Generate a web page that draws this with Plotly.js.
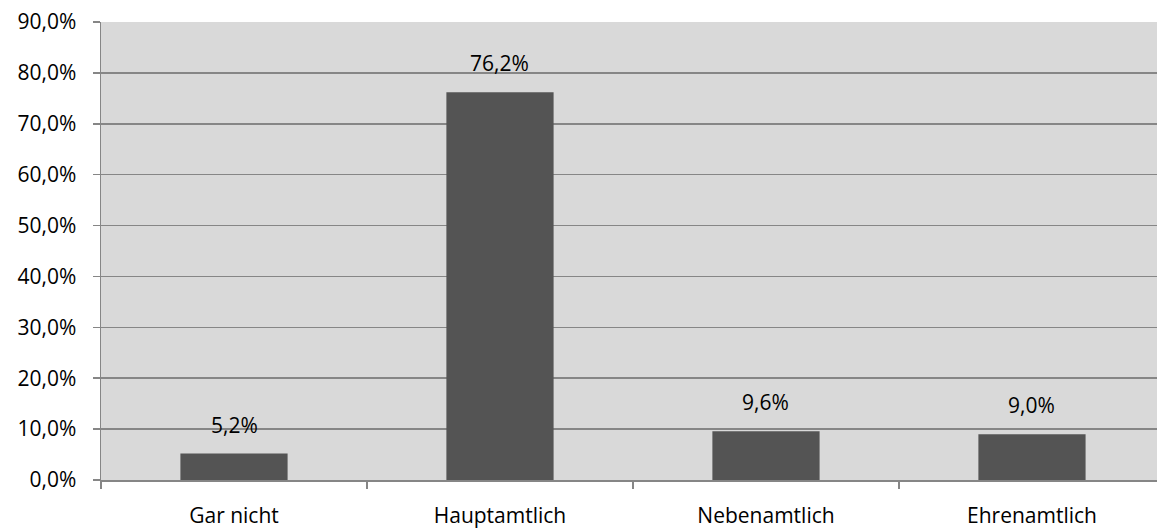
<!DOCTYPE html>
<html><head><meta charset="utf-8">
<script src="https://cdn.plot.ly/plotly-3.0.1.min.js"></script>
<style>html,body{margin:0;padding:0;background:#fff;overflow:hidden}</style>
</head><body>
<div id="chart" style="width:1157px;height:530px"></div>
<script>
const categories = ["Gar nicht", "Hauptamtlich", "Nebenamtlich", "Ehrenamtlich"];
const values = [0.052, 0.762, 0.096, 0.090];
const yTicks = [0, 0.1, 0.2, 0.3, 0.4, 0.5, 0.6, 0.7, 0.8, 0.9];

const font = {family: "Open Sans, Liberation Sans, sans-serif", size: 21, color: "#000"};

const trace = {
  type: "bar",
  x: categories,
  y: values,
  width: 0.403,
  marker: {color: "#545454", line: {width: 0}},
  hoverinfo: "none"
};

const annotations = categories.map((c, i) => ({
  x: c, y: values[i], xref: "x", yref: "y",
  text: (values[i] * 100).toFixed(1).replace(".", ",") + "%",
  showarrow: false, yanchor: "middle", yshift: 29,
  font: font
}));

const layout = {
  width: 1157, height: 530,
  margin: {l: 101, r: 0, t: 22, b: 50},
  paper_bgcolor: "#fff",
  plot_bgcolor: "#d9d9d9",
  separators: ",.",
  showlegend: false,
  font: font,
  bargap: 0.597,
  xaxis: {
    type: "category",
    range: [-0.5, 3.47],
    showgrid: false,
    showline: true, linecolor: "#868686", linewidth: 1.5,
    ticks: "outside", tickson: "boundaries", ticklen: 7, tickcolor: "#868686", tickwidth: 1.5,
    tickfont: font,
    ticklabelstandoff: 16,
    fixedrange: true
  },
  yaxis: {
    range: [0, 0.9],
    tickvals: yTicks,
    tickformat: ".1%",
    showgrid: true, gridcolor: "#868686", gridwidth: 1.5,
    showline: true, linecolor: "#868686", linewidth: 1.5,
    ticks: "outside", ticklen: 7, tickcolor: "#868686", tickwidth: 1.5,
    tickfont: font,
    ticklabelstandoff: 12,
    zeroline: false,
    fixedrange: true
  },
  annotations: annotations
};

Plotly.newPlot("chart", [trace], layout, {displayModeBar: false, staticPlot: true});
</script>
</body></html>
